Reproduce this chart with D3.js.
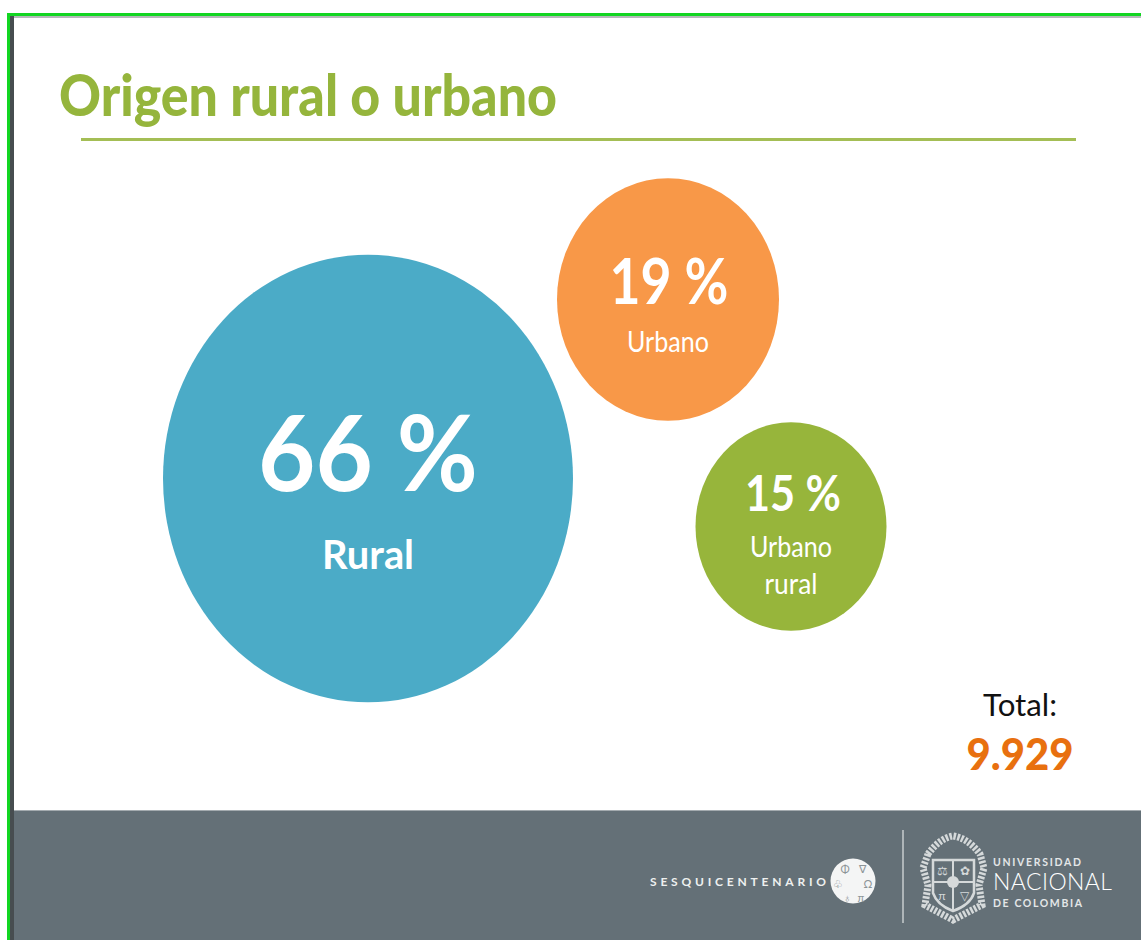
<!DOCTYPE html>
<html><head><meta charset="utf-8">
<script src="https://cdn.jsdelivr.net/npm/d3@7"></script>
<style>html,body{margin:0;padding:0;background:#fff;overflow:hidden}svg{display:block}text{font-family:"Lato",sans-serif}</style>
</head><body><svg id="c" width="1141" height="940"></svg>
<script>
const categories=["Rural","Urbano","Urbano rural"];
const values=[66,19,15];
const total="9.929";
const title="Origen rural o urbano";
const colors=["#4babc7","#f89848","#97b53b"];
const svg=d3.select("#c");
const put=(t,a)=>{const e=svg.append(t);Object.entries(a).forEach(([k,v])=>e.attr(k,v));return e;};
put("rect",{x:0,y:0,width:1141,height:940,fill:"#fff"});
put("rect",{x:7,y:13,width:1134,height:3,fill:"#12d622"});
put("rect",{x:7,y:13,width:3,height:927,fill:"#12d622"});
put("rect",{x:10,y:16,width:4,height:924,fill:"#474d50"});
put("rect",{x:14,y:16,width:1127,height:2,fill:"#b5b8ba"});
put("text",{x:59,y:116,"font-size":58,"font-weight":900,fill:"#95b53c",textLength:498,lengthAdjust:"spacingAndGlyphs"}).text(title);
put("rect",{x:81,y:138,width:995,height:3,fill:"#a4be55"});
// bubble size grows with the value; measured widths at the three values
const rx=d3.scaleLinear().domain([15,19,66]).range([95.5,111,205]);
const aspect=1.092;
const layout=[
 {cx:368,cy:478.5,vs:106,vy:491,vw:220,ls:41,ly:[569],lw:[92]},
 {cx:669,cy:299.5,vs:63,vy:304,vw:119,ls:28,ly:[352],lw:[82]},
 {cx:793,cy:526.5,vs:50,vy:511,vw:96,ls:28,ly:[557,594],lw:[82,53]}];
const lines=[["Rural"],["Urbano"],["Urbano","rural"]];
const g=svg.selectAll("g.b").data(values).join("g").attr("class","b");
const bubbleX=[368,668,791];
g.append("ellipse").attr("cx",(d,i)=>bubbleX[i]).attr("cy",(d,i)=>layout[i].cy).attr("rx",d=>rx(d)).attr("ry",d=>rx(d)*aspect).attr("fill",(d,i)=>colors[i]);
g.append("text").attr("x",(d,i)=>layout[i].cx).attr("y",(d,i)=>layout[i].vy).attr("text-anchor","middle").attr("fill","#fff").attr("font-weight",700).attr("font-size",(d,i)=>layout[i].vs).attr("textLength",(d,i)=>layout[i].vw).attr("lengthAdjust","spacingAndGlyphs").text(d=>d+" %");
g.each(function(d,i){const s=d3.select(this);lines[i].forEach((t,j)=>s.append("text").attr("x",bubbleX[i]).attr("y",layout[i].ly[j]).attr("text-anchor","middle").attr("fill","#fff").attr("font-size",layout[i].ls).attr("font-weight",i==0?700:400).attr("textLength",layout[i].lw[j]).attr("lengthAdjust","spacingAndGlyphs").text(t));});
put("text",{x:1020,y:716,"text-anchor":"middle","font-size":30,fill:"#111",textLength:74,lengthAdjust:"spacingAndGlyphs"}).text("Total:");
put("text",{x:1020,y:770,"text-anchor":"middle","font-size":44,"font-weight":900,fill:"#e8700f",textLength:107,lengthAdjust:"spacingAndGlyphs"}).text(total);
// footer
put("rect",{x:14,y:811,width:1127,height:129,fill:"#647077"});
put("rect",{x:14,y:810,width:1127,height:1,fill:"#a4abaf"});
put("text",{x:650,y:886,"font-size":12,"font-weight":700,fill:"#eef0f0",textLength:176}).text("SESQUICENTENARIO");
put("circle",{cx:853,cy:881,r:22.5,fill:"#f4f5f5"});
[["Φ",845,869],["∇",862,869],["♧",838,884],["Ω",868,884],["♁",847,898],["π",861,898]].forEach(s=>
  put("text",{x:s[1],y:s[2]+4,"text-anchor":"middle","font-size":11,fill:"#8c9497"}).text(s[0]));
put("rect",{x:902,y:830,width:2,height:93,fill:"#aeb5b8"});
// crest
const crest=svg.append("g").attr("fill","none").attr("stroke","#d5d9da");
crest.append("path").attr("d","M928 854 Q940 838 953 836 Q968 838 980 854 L984 868 L979 885 L982 905 Q968 912 953 920 Q938 912 925 905 L928 885 L923 868 Z").attr("stroke-width",7).attr("stroke-dasharray","2.5 1.5");
crest.append("path").attr("d","M933 860 L974 860 L974 893 Q970 905 953 911 Q937 905 933 893 Z").attr("stroke-width",2.5);
crest.append("path").attr("d","M953 860 V911 M933 882 H974").attr("stroke-width",2);
crest.append("circle").attr("cx",953).attr("cy",882).attr("r",6).attr("fill","#d5d9da").attr("stroke","none");
[["⚖",942,875],["✿",965,875],["π",942,900],["▽",964,900]].forEach(s=>
  put("text",{x:s[1],y:s[2],"text-anchor":"middle","font-size":12,fill:"#d5d9da"}).text(s[0]));
put("text",{x:993,y:866,"font-size":10.5,"font-weight":700,fill:"#e3e6e7",textLength:88}).text("UNIVERSIDAD");
put("text",{x:993,y:890,"font-size":23,"font-weight":300,fill:"#fff",textLength:119}).text("NACIONAL");
put("text",{x:993,y:907,"font-size":10.5,"font-weight":700,fill:"#e3e6e7",textLength:89}).text("DE COLOMBIA");
</script></body></html>
